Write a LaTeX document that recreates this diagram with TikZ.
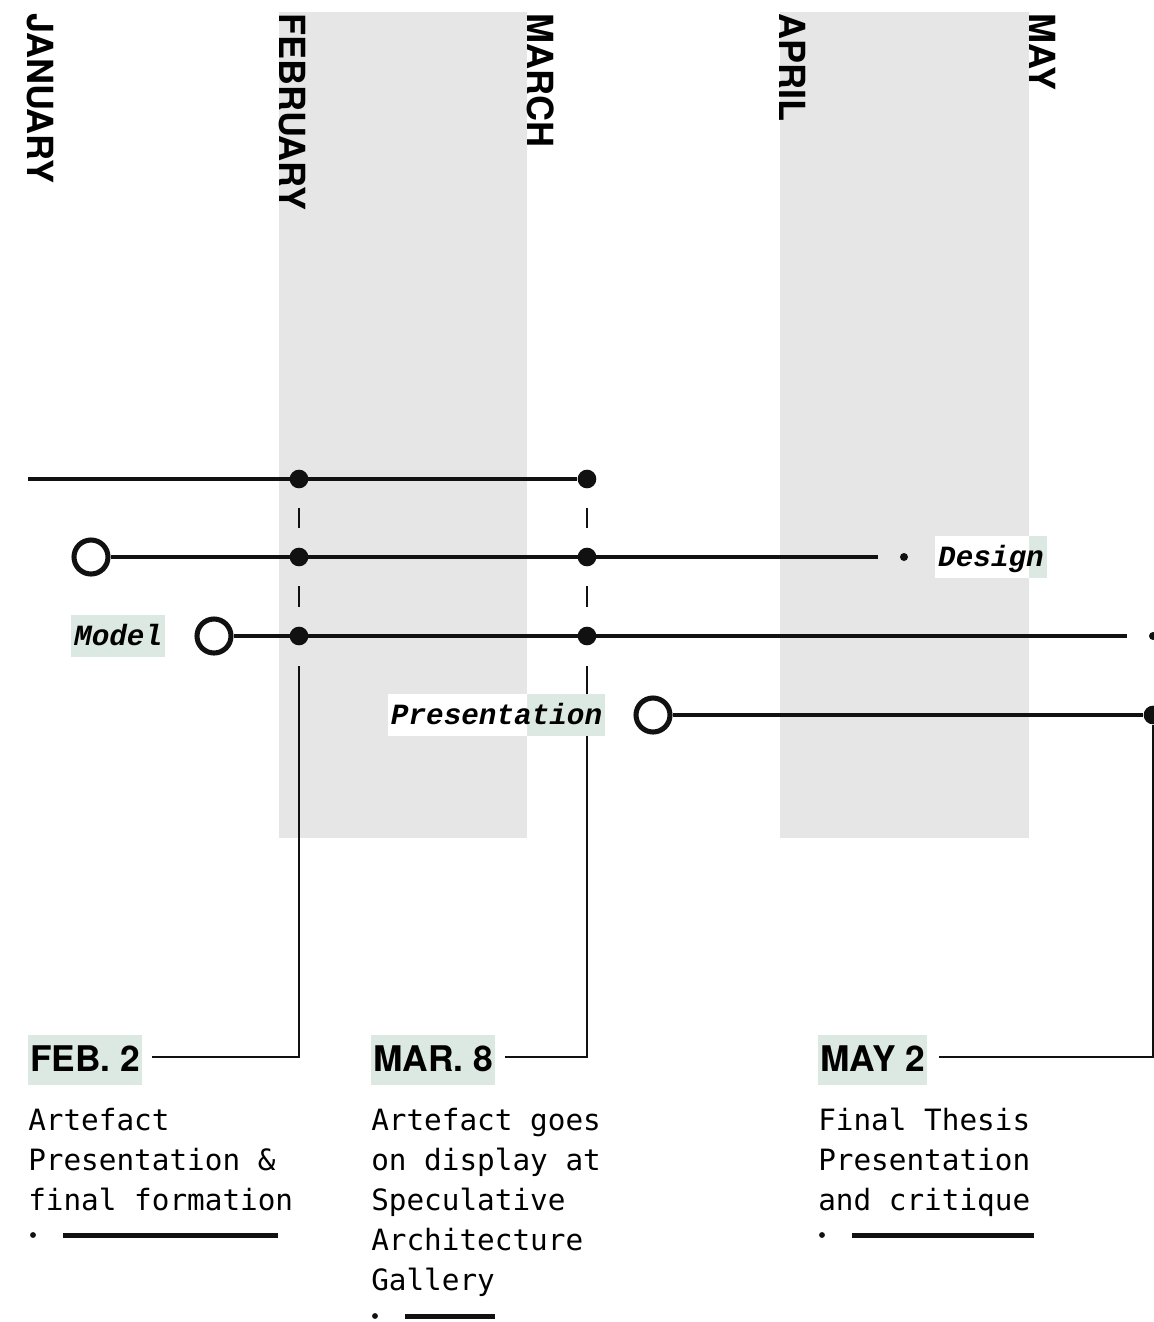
\documentclass[tikz,border=0pt]{standalone}
\usepackage{fontspec}
\setmainfont{TeX Gyre Heros}
\setmonofont{DejaVu Sans Mono}
\newfontfamily\tagfont{Liberation Mono}
\usetikzlibrary{positioning, backgrounds}
\definecolor{band}{HTML}{E6E6E6}
\definecolor{mint}{HTML}{DCE8E2}
\definecolor{ink}{HTML}{111111}

\tikzset{
  month/.style={rotate=-90, anchor=base west, inner sep=0pt, font=\bfseries\fontsize{27}{27}\selectfont},
  track/.style={draw=ink, line width=3.5pt},
  riser/.style={draw=ink, line width=1.6pt},
  dot/.style={circle, fill=ink, inner sep=0pt, minimum size=14pt},
  enddot/.style={circle, fill=ink, inner sep=0pt, minimum size=6pt},
  ring/.style={circle, draw=ink, line width=3.8pt, fill=white, inner sep=0pt, minimum size=25.5pt},
  tag/.style={inner xsep=2.25pt, inner ysep=5pt, text height=17pt, text depth=3.5pt, font=\tagfont\bfseries\itshape\fontsize{22}{22}\selectfont},
  datetag/.style={fill=mint, anchor=west, inner xsep=1.5pt, inner ysep=8.25pt, text height=18.9pt, text depth=2.25pt, font=\bfseries\fontsize{26.5}{26.5}\selectfont},
  note/.style={anchor=north west, inner sep=0pt, align=left, font=\ttfamily\fontsize{22}{30}\selectfont},
}

\begin{document}
\begin{tikzpicture}[x=0.75pt, y=-0.75pt]
  \useasboundingbox (0,0) rectangle (1154,1322);
  \begin{scope}[on background layer]
    \fill[white] (0,0) rectangle (1154,1322);
    \fill[band] (279,12) rectangle (527,838);
    \fill[band] (780,12) rectangle (1029,838);
  \end{scope}
  \foreach \x/\month in {27/JANUARY, 279/FEBRUARY, 527/MARCH, 779/APRIL, 1029/MAY}
    \node[month] (m-\month) at (\x,13) {\month};

  % tracks
  \coordinate (t-start) at (28,479);
  \node[dot] (f1) at (299,479) {};
  \node[dot] (f2) at (587,479) {};
  \node[ring] (d0) at (91,557) {};
  \node[dot] (d1) at (299,557) {};
  \node[dot] (d2) at (587,557) {};
  \coordinate (d-end) at (878,557);
  \node[enddot] (d3) at (904,557) {};
  \node[tag, right=20pt of d3] (design) {Design};
  \node[ring] (o0) at (214,636) {};
  \node[tag, left=21.75pt of o0] (model) {Model};
  \node[dot] (o1) at (299,636) {};
  \node[dot] (o2) at (587,636) {};
  \coordinate (o-end) at (1127,636);
  \node[enddot] (o3) at (1153,636) {};
  \node[ring] (p0) at (653,715) {};
  \node[dot] (p1) at (1153,715) {};
  \node[tag, left=21pt of p0] (pres) {Presentation};

  \draw[track] (t-start) -- (f2);
  \draw[track] (d0) -- (d-end);
  \draw[track] (o0) -- (o-end);
  \draw[track] (p0) -- (p1);
  \foreach \a/\b in {f1/d1, d1/o1, f2/d2, d2/o2}
    \draw[riser, shorten <=21.75pt, shorten >=21.75pt] (\a.center) -- (\b.center);

  % dates
  \node[datetag] (feb) at (28,1060) {FEB. 2};
  \node[datetag] (mar) at (371,1060) {MAR. 8};
  \node[datetag] (may) at (818,1060) {MAY 2};
  \draw[riser] ([shift={(7.5pt,2pt)}]feb.east) -| ([yshift=-22.5pt]o1.center);
  \draw[riser] ([shift={(7.5pt,2pt)}]mar.east) -| (o2 |- pres.south);
  \draw[riser] (o2 |- pres.north) -- ([yshift=-22.5pt]o2.center);
  \draw[riser] ([shift={(9pt,2pt)}]may.east) -| (p1);

  \node[note] (feb-note) at (28,1108) {Artefact\\Presentation \&\\final formation};
  \node[note] (mar-note) at (371,1108) {Artefact goes\\on display at\\Speculative\\Architecture\\Gallery};
  \node[note] (may-note) at (818,1108) {Final Thesis\\Presentation\\and critique};
  \foreach \x/\y/\len in {33/1235/215, 375/1316/90, 822/1235/182} {
    \fill[ink] (\x,\y) circle (2.2pt);
    \draw[ink, line width=3.75pt] (\x+30,\y) -- (\x+30+\len,\y);
  }

  % label boxes
  \begin{scope}[on background layer]
    \foreach \t in {design, model, pres}
      \fill[mint] (\t.south west) rectangle (\t.north east);
    \clip (279,12) rectangle (527,838) (780,12) rectangle (1029,838);
    \fill[white] (pres.south west) rectangle (pres.north east);
    \fill[white] (design.south west) rectangle (design.north east);
  \end{scope}
\end{tikzpicture}
\end{document}
